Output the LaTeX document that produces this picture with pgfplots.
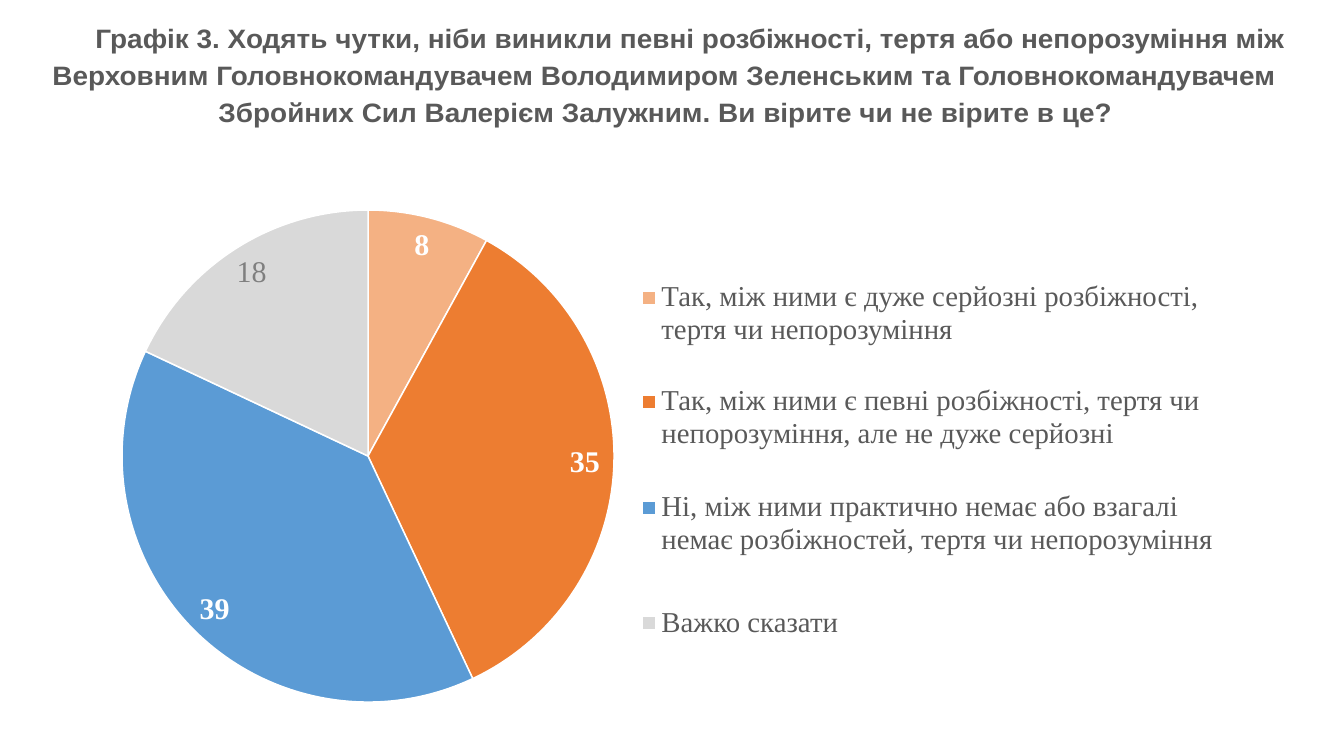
\documentclass[border=0pt]{standalone}
\usepackage{fontspec}
\setmainfont{Liberation Serif}
\newfontfamily\titlefont{Liberation Sans}
\usepackage{pgfplots}
\usepackage{pgfplotstable}
\pgfplotsset{compat=1.18}
\frenchspacing

\definecolor{txt}{HTML}{595959}
\definecolor{sliceA}{HTML}{F4B183}
\definecolor{sliceB}{HTML}{ED7D31}
\definecolor{sliceC}{HTML}{5B9BD5}
\definecolor{sliceD}{HTML}{D9D9D9}
\definecolor{labgray}{HTML}{7F7F7F}

\tikzset{labbold/.style={font=\fontsize{15}{18}\selectfont\bfseries},
    labreg/.style={font=\fontsize{15}{18}\selectfont},
    legtext/.style={anchor=base west, inner sep=0pt, text=txt, font=\fontsize{14.4}{17}\selectfont},
    titletext/.style={anchor=base west, inner sep=0pt, text=txt, font=\titlefont\bfseries\fontsize{13.3}{16}\selectfont}}
\newcommand\tline[1]{\scalebox{1.05}[1]{#1}}

% share of answers, %
\pgfplotstableread{
value fill   labcol  style
8     sliceA white   labbold
35    sliceB white   labbold
39    sliceC white   labbold
18    sliceD labgray labreg
}\piedata

\begin{document}
\begin{tikzpicture}
\begin{axis}[
    scale only axis,
    width=667pt, height=360pt,
    xmin=0, xmax=1334, ymin=0, ymax=720,
    y dir=reverse,
    hide axis, clip=false,
  ]
  \path (axis cs:0,0) rectangle (axis cs:1334,720);

  % slices, clockwise from the top
  \pgfplotstablegetrowsof{\piedata}
  \pgfmathtruncatemacro\nrows{\pgfplotsretval-1}
  \xdef\cum{0}
  \pgfplotsforeachungrouped \i in {0,...,\nrows}{
    \pgfplotstablegetelem{\i}{value}\of\piedata \let\val\pgfplotsretval
    \pgfplotstablegetelem{\i}{fill}\of\piedata \let\fc\pgfplotsretval
    \pgfplotstablegetelem{\i}{labcol}\of\piedata \let\lc\pgfplotsretval
    \pgfplotstablegetelem{\i}{style}\of\piedata \let\st\pgfplotsretval
    \pgfmathsetmacro\sa{90-3.6*\cum}
    \pgfmathsetmacro\ea{90-3.6*(\cum+\val)}
    \pgfmathsetmacro\ma{(\sa+\ea)/2}
    \pgfmathsetmacro\newcum{\cum+\val}
    \xdef\cum{\newcum}
    \edef\temp{\noexpand\fill[\fc, draw=white, line width=0.75pt]
        (axis cs:368,456) -- ++(\sa:123pt) arc[start angle=\sa, end angle=\ea, radius=123pt] -- cycle;
      \noexpand\node[\st, text=\lc, shift={(\ma:108.5pt)}] at (axis cs:368,456) {\val};}
    \temp
  }

  % title
  \node[titletext] at (axis cs:95,48) {\tline{Графік 3. Ходять чутки, ніби виникли певні розбіжності, тертя або непорозуміння між}};
  \node[titletext] at (axis cs:52,85) {\tline{Верховним Головнокомандувачем Володимиром Зеленським та Головнокомандувачем}};
  \node[titletext] at (axis cs:218,122) {\tline{Збройних Сил Валерієм Залужним. Ви вірите чи не вірите в це?}};

  % legend
  \fill[sliceA] (axis cs:643,292) rectangle (axis cs:655,304);
  \node[legtext] at (axis cs:661,306) {Так, між ними є дуже серйозні розбіжності,};
  \node[legtext] at (axis cs:661,339) {тертя чи непорозуміння};
  \fill[sliceB] (axis cs:643,396) rectangle (axis cs:655,408);
  \node[legtext] at (axis cs:661,410) {Так, між ними є певні розбіжності, тертя чи};
  \node[legtext] at (axis cs:661,443) {непорозуміння, але не дуже серйозні};
  \fill[sliceC] (axis cs:643,502) rectangle (axis cs:655,514);
  \node[legtext] at (axis cs:661,516) {Ні, між ними практично немає або взагалі};
  \node[legtext] at (axis cs:661,549) {немає розбіжностей, тертя чи непорозуміння};
  \fill[sliceD] (axis cs:643,617) rectangle (axis cs:655,629);
  \node[legtext] at (axis cs:661,632) {Важко сказати};
\end{axis}
\end{tikzpicture}
\end{document}
